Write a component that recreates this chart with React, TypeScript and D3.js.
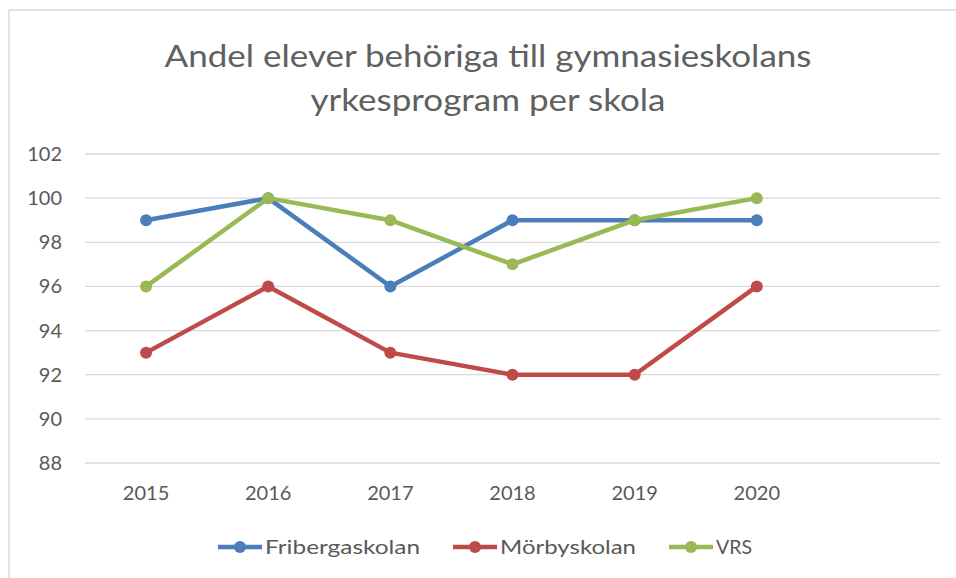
import React from 'react';
import * as d3 from 'd3';

const categories = ['2015', '2016', '2017', '2018', '2019', '2020', ''];
const fribergaskolan = [99, 100, 96, 99, 99, 99];
const morbyskolan = [93, 96, 93, 92, 92, 96];
const vrs = [96, 100, 99, 97, 99, 100];
const yTicks = [88, 90, 92, 94, 96, 98, 100, 102];
const seriesNames = ['Fribergaskolan', 'Mörbyskolan', 'VRS'];
const titleLines = ['Andel elever behöriga till  gymnasieskolans', 'yrkesprogram per skola'];

const colors = ['#4A7EBB', '#BE4B48', '#98B954'];
const FONT = 'Lato, "Open Sans", sans-serif';
const TEXT = '#595959';

export default function App() {
  const W = 956, H = 578;
  const x = d3.scaleBand<string>().domain(categories).range([85, 940]).padding(0);
  const y = d3.scaleLinear().domain([88, 102]).range([463, 154]);
  const series = [fribergaskolan, morbyskolan, vrs];
  const line = d3
    .line<number>()
    .x((_, i) => (x(categories[i]) as number) + x.bandwidth() / 2)
    .y((d) => y(d));

  const legendX = [218, 453, 669];
  const legendTextLen = [155, 136, 36];
  const legendY = 547;

  return (
    <svg
      width={W}
      height={H}
      style={{ position: 'absolute', left: 0, top: 0, background: '#fff' }}
      fontFamily={FONT}
    >
      <rect x={0} y={0} width={W} height={H} fill="#fff" />
      <line x1={9} y1={10} x2={W} y2={10} stroke="#D9D9D9" strokeWidth={1.5} />
      <line x1={9} y1={10} x2={9} y2={H} stroke="#D9D9D9" strokeWidth={1.5} />

      {titleLines.map((t, i) => (
        <text
          key={t}
          x={488}
          y={i === 0 ? 67 : 111}
          textAnchor="middle"
          fontSize={31}
          fontWeight={400}
          fill="#606060"
          textLength={i === 0 ? 647 : 355}
          lengthAdjust="spacingAndGlyphs"
        >
          {t}
        </text>
      ))}

      {yTicks.map((t) => (
        <g key={t}>
          <line x1={85} x2={940} y1={y(t)} y2={y(t)} stroke="#D9D9D9" strokeWidth={1.3} />
          <text x={62} y={y(t)} dy="0.35em" textAnchor="end" fontSize={20} fill={TEXT}>
            {t}
          </text>
        </g>
      ))}

      {categories.map((c) =>
        c ? (
          <text
            key={c}
            x={(x(c) as number) + x.bandwidth() / 2}
            y={500}
            textAnchor="middle"
            fontSize={20}
            fill={TEXT}
          >
            {c}
          </text>
        ) : null
      )}

      {series.map((s, si) => (
        <g key={si}>
          <path d={line(s) as string} fill="none" stroke={colors[si]} strokeWidth={4.5} strokeLinejoin="round" />
          {s.map((v, i) => (
            <circle
              key={i}
              cx={(x(categories[i]) as number) + x.bandwidth() / 2}
              cy={y(v)}
              r={6}
              fill={colors[si]}
            />
          ))}
        </g>
      ))}

      {seriesNames.map((n, i) => (
        <g key={n}>
          <line x1={legendX[i]} x2={legendX[i] + 44} y1={legendY} y2={legendY} stroke={colors[i]} strokeWidth={4.5} />
          <circle cx={legendX[i] + 22} cy={legendY} r={6} fill={colors[i]} />
          <text
            x={legendX[i] + 47}
            y={legendY}
            dy="0.35em"
            fontSize={20}
            fill={TEXT}
            textLength={legendTextLen[i]}
            lengthAdjust="spacingAndGlyphs"
          >
            {n}
          </text>
        </g>
      ))}
    </svg>
  );
}
